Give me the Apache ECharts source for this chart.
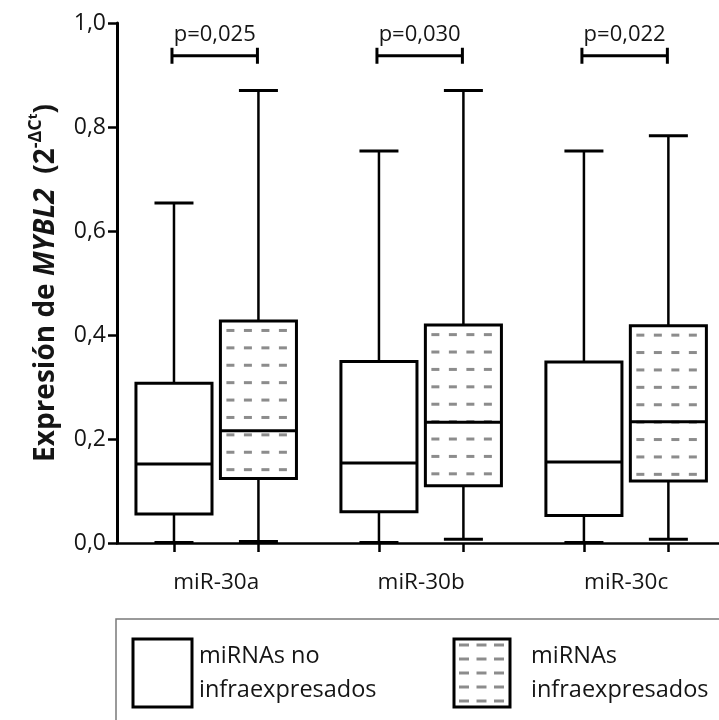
<!DOCTYPE html>
<html><head><meta charset="utf-8">
<script src="https://cdn.jsdelivr.net/npm/echarts@6/dist/echarts.min.js"></script>
<style>html,body{margin:0;padding:0;background:#fff}#c{width:719px;height:720px}</style>
</head><body><div id="c"></div>
<script>
// ---- data ----
const categories = ['miR-30a', 'miR-30b', 'miR-30c'];
const groupNames = ['miRNAs no\ninfraexpresados', 'miRNAs\ninfraexpresados'];
// [min, Q1, median, Q3, max]
const noInfra = [
  [0.001, 0.056, 0.152, 0.307, 0.654],
  [0.001, 0.060, 0.154, 0.349, 0.754],
  [0.001, 0.053, 0.156, 0.348, 0.754]
];
const infra = [
  [0.003, 0.124, 0.216, 0.427, 0.870],
  [0.007, 0.110, 0.232, 0.419, 0.870],
  [0.007, 0.119, 0.233, 0.418, 0.783]
];
const pValues = ['p=0,025', 'p=0,030', 'p=0,022'];
const bracketLevel = 0.937;
const yTickValues = [0, 0.2, 0.4, 0.6, 0.8, 1.0];

// ---- layout constants (styling) ----
const groupOffset = 0.206;   // category units
const boxWidthUnits = 0.371; // category units
const FONT = 'Open Sans';
const INK = '#151515';

const boxData = [];
categories.forEach((c, i) => {
  boxData.push([i, 0].concat(noInfra[i]));
  boxData.push([i, 1].concat(infra[i]));
});
const bracketData = categories.map((c, i) => [i, bracketLevel]);
const tickPositions = [];
categories.forEach((c, i) => { tickPositions.push(i - groupOffset, i + groupOffset); });

function renderBox(params, api) {
  const ci = api.value(0), g = api.value(1);
  const x = ci + (g === 0 ? -groupOffset : groupOffset);
  const pMin = api.coord([x, api.value(2)]);
  const pQ1 = api.coord([x, api.value(3)]);
  const pMed = api.coord([x, api.value(4)]);
  const pQ3 = api.coord([x, api.value(5)]);
  const pMax = api.coord([x, api.value(6)]);
  const bw = api.size([boxWidthUnits, 0])[0];
  const cx = pMed[0];
  const left = cx - bw / 2, right = cx + bw / 2;
  const top = pQ3[1], bottom = pQ1[1];
  const capHalf = 19.5;
  const ch = [];
  ch.push({type: 'line', shape: {x1: cx, y1: pMax[1], x2: cx, y2: top}, style: {stroke: '#000', lineWidth: 2.5}});
  ch.push({type: 'line', shape: {x1: cx, y1: bottom, x2: cx, y2: pMin[1]}, style: {stroke: '#000', lineWidth: 2.5}});
  ch.push({type: 'line', shape: {x1: cx - capHalf, y1: pMax[1], x2: cx + capHalf, y2: pMax[1]}, style: {stroke: '#000', lineWidth: 3}});
  ch.push({type: 'line', shape: {x1: cx - capHalf, y1: pMin[1], x2: cx + capHalf, y2: pMin[1]}, style: {stroke: '#000', lineWidth: 3}});
  ch.push({type: 'rect', shape: {x: left, y: top, width: bw, height: bottom - top}, style: {fill: '#fff', stroke: null}});
  if (g === 1) {
    for (let yy = top + 9.5; yy < bottom - 3; yy += 17.4) {
      for (let xx = left + 10; xx + 4 < right - 2; xx += 17.5) {
        ch.push({type: 'line', shape: {x1: xx - 4, y1: yy, x2: xx + 4, y2: yy}, style: {stroke: '#8c8c8c', lineWidth: 3}});
      }
    }
  }
  ch.push({type: 'rect', shape: {x: left, y: top, width: bw, height: bottom - top}, style: {fill: null, stroke: '#000', lineWidth: 3}});
  ch.push({type: 'line', shape: {x1: left, y1: pMed[1], x2: right, y2: pMed[1]}, style: {stroke: '#000', lineWidth: 3}});
  return {type: 'group', children: ch};
}

function renderBracket(params, api) {
  const ci = api.value(0), lv = api.value(1);
  const l = api.coord([ci - groupOffset, lv]);
  const r = api.coord([ci + groupOffset, lv]);
  const lx = l[0] - 2, rx = r[0] - 1;
  return {type: 'group', children: [
    {type: 'line', shape: {x1: lx, y1: l[1], x2: rx, y2: l[1]}, style: {stroke: '#000', lineWidth: 3}},
    {type: 'line', shape: {x1: lx, y1: l[1] - 8, x2: lx, y2: l[1] + 8}, style: {stroke: '#000', lineWidth: 3}},
    {type: 'line', shape: {x1: rx, y1: l[1] - 8, x2: rx, y2: l[1] + 8}, style: {stroke: '#000', lineWidth: 3}},
    {type: 'text', x: (lx + rx) / 2, y: l[1] - 21, style: {text: pValues[params.dataIndex], fill: INK, font: '22px "' + FONT + '"', align: 'center', verticalAlign: 'middle'}}
  ]};
}

// legend graphics
function legendGraphics() {
  const els = [];
  els.push({type: 'rect', shape: {x: 116, y: 619, width: 640, height: 140}, style: {fill: 'none', stroke: '#7a7a7a', lineWidth: 1.5}});
  els.push({type: 'rect', shape: {x: 133, y: 639, width: 59, height: 68}, style: {fill: '#fff', stroke: '#000', lineWidth: 3}});
  els.push({type: 'rect', shape: {x: 454, y: 639, width: 56, height: 68}, style: {fill: '#fff', stroke: '#000', lineWidth: 3}});
  for (let yy = 645; yy < 705; yy += 14) {
    for (let xx = 464; xx < 505; xx += 17.5) {
      els.push({type: 'line', shape: {x1: xx - 5, y1: yy, x2: xx + 5, y2: yy}, style: {stroke: '#8c8c8c', lineWidth: 3}});
    }
  }
  const tx = [199, 531];
  groupNames.forEach((name, k) => {
    name.split('\n').forEach((line, j) => {
      els.push({type: 'text', x: tx[k], y: 656 + j * 34, style: {text: line, fill: INK, font: '23.5px "' + FONT + '"', align: 'left', verticalAlign: 'middle'}});
    });
  });
  return els;
}

const chart = echarts.init(document.getElementById('c'), null, {renderer: 'canvas'});
chart.setOption({
  animation: false,
  backgroundColor: '#fff',
  grid: {left: 117, right: 0, top: 23, bottom: 177, containLabel: false},
  xAxis: {
    type: 'value', min: -0.484, max: 2.453,
    splitLine: {show: false},
    axisLine: {show: true, onZero: false, lineStyle: {color: '#000', width: 2.5}},
    axisTick: {show: true, customValues: tickPositions, length: 9, lineStyle: {color: '#000', width: 2.5}},
    axisLabel: {show: true, customValues: [0, 1, 2], formatter: v => categories[Math.round(v)], margin: 28,
      fontFamily: FONT, fontSize: 22.5, color: INK}
  },
  yAxis: {
    type: 'value', min: 0, max: 1, interval: 0.2,
    splitLine: {show: false},
    axisLine: {show: true, onZero: false, lineStyle: {color: '#000', width: 3}},
    axisTick: {show: true, length: 9, lineStyle: {color: '#000', width: 2.5}},
    axisLabel: {margin: 11, fontFamily: FONT, fontSize: 23, color: INK,
      formatter: v => v.toFixed(1).replace('.', ',')},
    name: '{b|Expresión de }{bi|MYBL2}{b|  (2}{sup|-ΔC}{sup2|t}{b|)}',
    nameLocation: 'middle', nameGap: 52, nameRotate: 90,
    nameTextStyle: {
      fontFamily: FONT, color: INK, fontSize: 28, fontWeight: 'bold',
      rich: {
        b: {fontFamily: FONT, fontSize: 28, fontWeight: 'bold', color: INK, lineHeight: 38},
        bi: {fontFamily: FONT, fontSize: 28, fontWeight: 'bold', fontStyle: 'italic', color: INK, lineHeight: 38},
        sup: {fontFamily: FONT, fontSize: 18, fontWeight: 'bold', color: INK, lineHeight: 20, verticalAlign: 'top'},
        sup2: {fontFamily: FONT, fontSize: 13, fontWeight: 'bold', color: INK, lineHeight: 13, verticalAlign: 'top'}
      }
    }
  },
  series: [
    {type: 'custom', name: 'boxes', renderItem: renderBox, data: boxData, clip: false,
      encode: {x: 0, y: [2, 6]}, z: 3},
    {type: 'custom', name: 'brackets', renderItem: renderBracket, data: bracketData, clip: false,
      encode: {x: 0, y: 1}, z: 3}
  ],
  graphic: legendGraphics()
});
</script></body></html>
